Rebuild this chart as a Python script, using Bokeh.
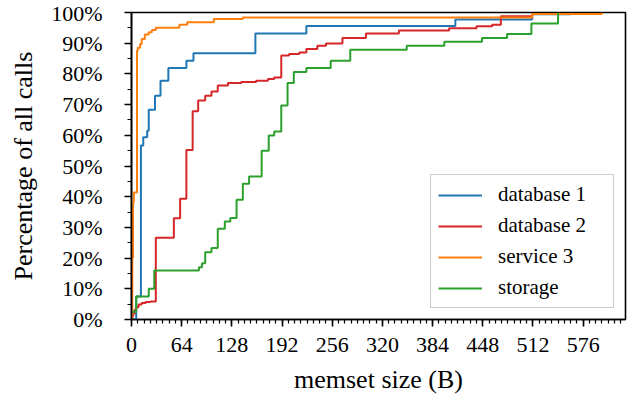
from bokeh.plotting import figure
from bokeh.models import FixedTicker, Range1d, Legend, LegendItem
from bokeh.embed import file_html
from bokeh.resources import INLINE

# ---- data (memset size in bytes, cumulative percentage of calls) ----
db1_x = [0, 6, 12, 15, 20, 22, 30, 37, 47, 70, 79, 158, 223, 413, 511, 560]
db1_y = [0, 7.5, 56.7, 59.4, 61.5, 68.3, 72.9, 77.8, 81.9, 84.3, 86.7, 93.2, 95.6, 97.7, 99.4, 100]

db2_x = [0, 1, 2, 4, 6, 9, 13, 18, 24, 31, 54, 62, 70, 78, 85, 94, 102, 110, 123, 140, 159,
         174, 182, 191, 201, 214, 223, 237, 248, 269, 299, 341, 405, 440, 460, 471, 511, 545]
db2_y = [0.2, 1.0, 1.9, 3.2, 4.0, 4.9, 5.4, 5.7, 5.9, 26.6, 33.0, 39.3, 55.2, 67.8, 71.3, 72.9,
         74.3, 76.2, 77.0, 77.4, 77.8, 78.3, 78.8, 86.0, 86.5, 87.0, 88.1, 89.2, 89.9, 91.7, 93.2,
         94.1, 94.9, 95.5, 96.0, 98.8, 99.5, 100]

svc3_x = [0, 1, 2, 3, 7, 8, 11, 13, 17, 22, 26, 31, 61, 71, 105, 142, 511, 600]
svc3_y = [1, 20.0, 38.2, 41.4, 87.6, 88.5, 89.7, 91.4, 92.8, 93.6, 94.3, 95.0, 96.0, 96.8,
          97.9, 98.4, 99.5, 100]

stor_x = [0, 6, 22, 29, 86, 90, 94, 102, 110, 119, 126, 134, 142, 150, 166, 175, 182, 191,
          199, 207, 223, 254, 279, 351, 399, 447, 479, 510, 544]
stor_y = [2.5, 7.5, 10.0, 16.0, 17.0, 18.3, 21.9, 23.3, 29.6, 31.9, 33.1, 39.0, 44.2, 46.6,
          55.0, 59.9, 61.2, 69.7, 77.0, 80.6, 81.9, 84.3, 87.9, 89.2, 90.5, 91.7, 93.0, 96.4, 100]

series_names = ["database 1", "database 2", "service 3", "storage"]
series_colors = ["#1f77b4", "#d62728", "#ff7f0e", "#2ca02c"]

x_ticks = [0, 64, 128, 192, 256, 320, 384, 448, 512, 576]
x_minor = list(range(0, 632, 8))
y_ticks = [0, 10, 20, 30, 40, 50, 60, 70, 80, 90, 100]
y_minor = list(range(0, 101, 5))

FONT = "'Liberation Serif', serif"

p = figure(width=629, height=400, output_backend="svg", toolbar_location=None,
           x_range=Range1d(0, 630), y_range=Range1d(0, 100),
           min_border_left=131, min_border_right=4, min_border_top=12, min_border_bottom=81)
p.grid.visible = False
p.outline_line_color = "black"
p.outline_line_width = 1.6
p.background_fill_color = "white"
p.border_fill_color = "white"

renderers = []
for xs, ys, c in [(db1_x, db1_y, series_colors[0]), (db2_x, db2_y, series_colors[1]),
                  (svc3_x, svc3_y, series_colors[2]), (stor_x, stor_y, series_colors[3])]:
    r = p.step(xs, ys, mode="after", line_color=c, line_width=2)
    renderers.append(r)

p.xaxis.ticker = FixedTicker(ticks=x_ticks, minor_ticks=x_minor)
p.yaxis.ticker = FixedTicker(ticks=y_ticks, minor_ticks=y_minor)
p.yaxis.major_label_overrides = {t: f"{t}%" for t in y_ticks}

for ax in (p.xaxis[0], p.yaxis[0]):
    ax.axis_line_color = "black"
    ax.axis_line_width = 1.6
    ax.major_tick_line_color = "black"
    ax.major_tick_line_width = 1.6
    ax.minor_tick_line_color = "black"
    ax.minor_tick_line_width = 1.2
    ax.major_tick_out = 7
    ax.major_tick_in = 0
    ax.minor_tick_out = 4
    ax.minor_tick_in = 0
    ax.major_label_text_font = FONT
    ax.major_label_text_font_size = "22px"
    ax.major_label_text_color = "black"
    ax.axis_label_text_font = FONT
    ax.axis_label_text_font_size = "26px"
    ax.axis_label_text_font_style = "normal"
    ax.axis_label_text_color = "black"

p.xaxis.axis_label = "memset size (B)"
p.yaxis.axis_label = "Percentage of all calls"
p.xaxis.major_label_standoff = 11
p.xaxis.axis_label_standoff = 10
p.yaxis.major_label_standoff = 22
p.yaxis.axis_label_standoff = 10

legend = Legend(items=[LegendItem(label=n, renderers=[r]) for n, r in zip(series_names, renderers)],
                location="bottom_right", margin=11, padding=7, spacing=6,
                glyph_width=44, glyph_height=24, label_height=24, label_width=108,
                label_standoff=16,
                label_text_font=FONT, label_text_font_size="21px", label_text_color="black",
                border_line_color="#cccccc", border_line_width=1.5, border_line_alpha=1.0,
                background_fill_color="white", background_fill_alpha=0.8)
p.add_layout(legend)

open("out.html", "w").write(file_html(p, INLINE))
